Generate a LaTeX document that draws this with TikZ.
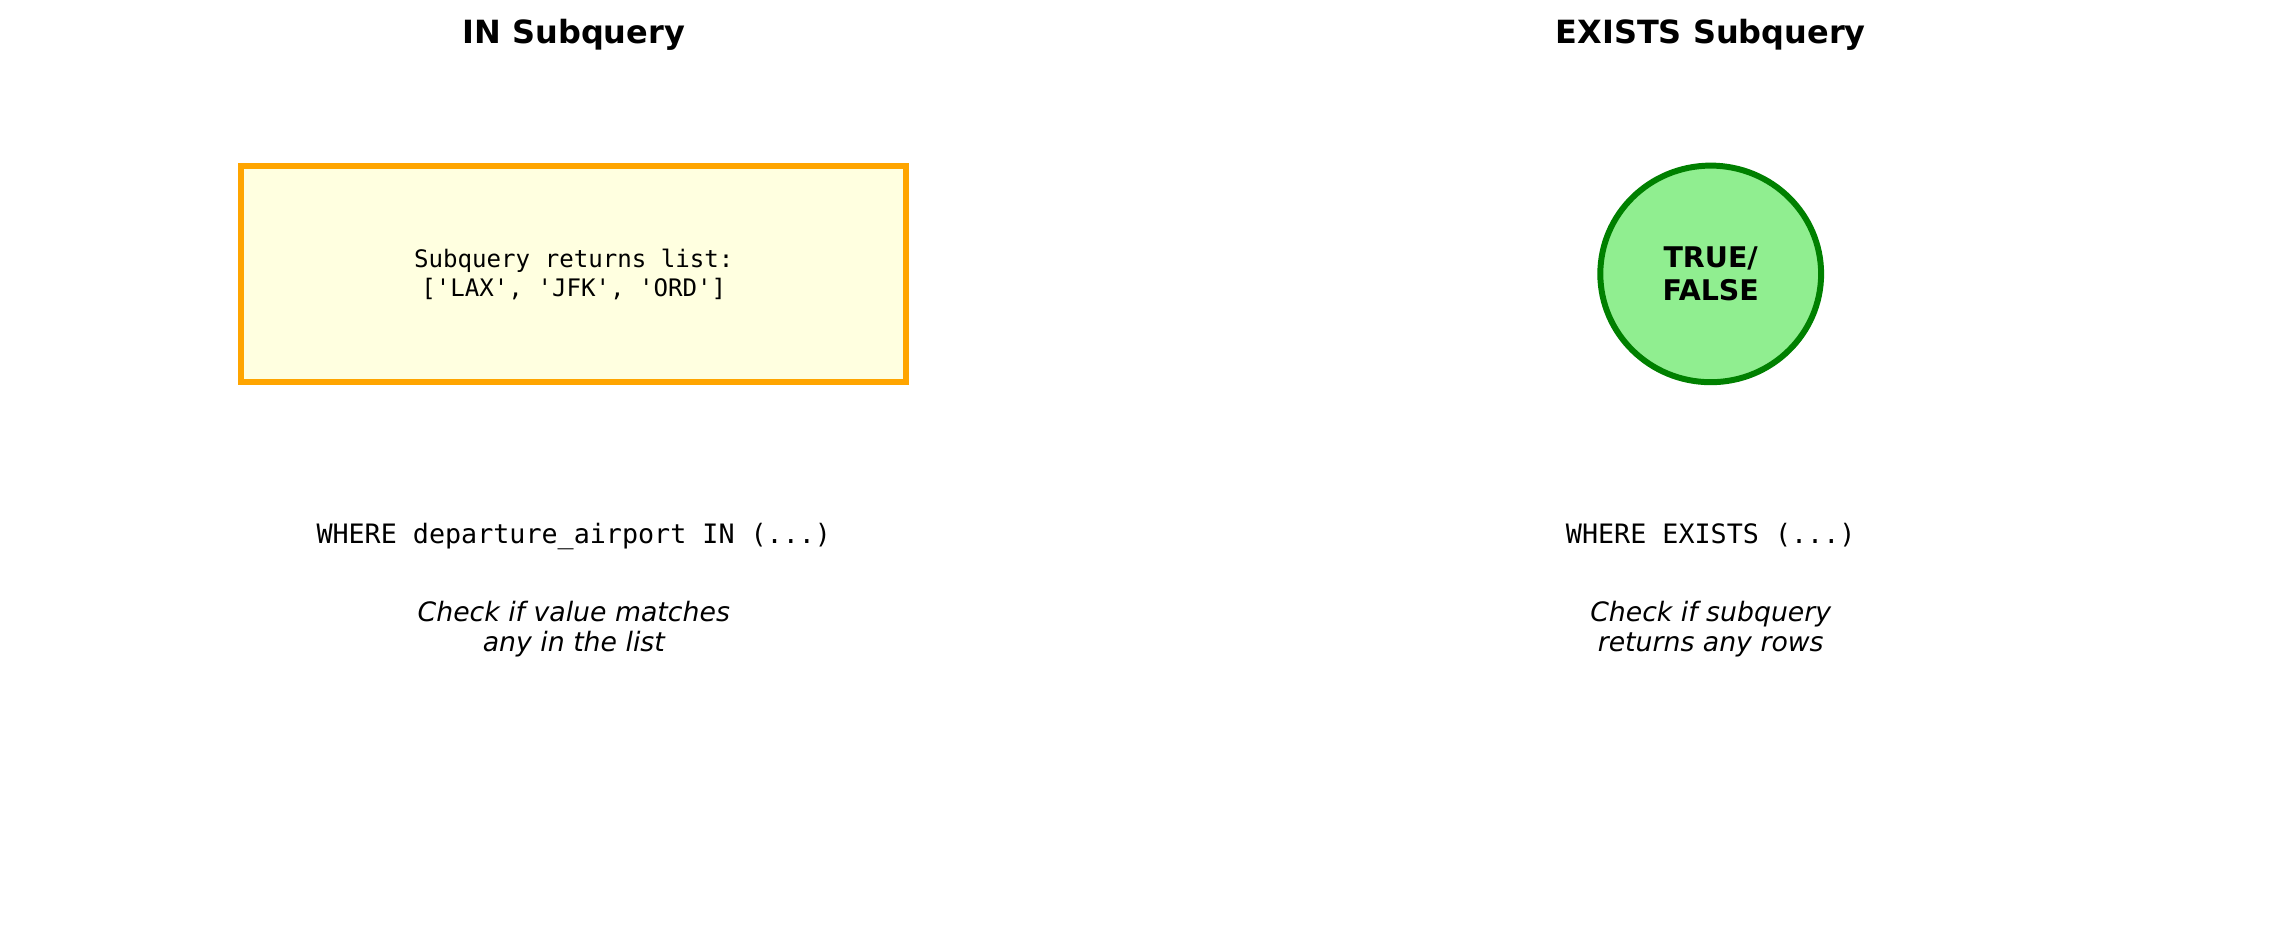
\documentclass[tikz,border=0pt]{standalone}
\usepackage{fontspec}
\setmainfont{DejaVu Sans}
\setmonofont{DejaVu Sans Mono}
\usepackage{tikz}
\usetikzlibrary{shapes.geometric}

\definecolor{boxedge}{RGB}{255,165,0}
\definecolor{boxfill}{RGB}{255,255,224}
\definecolor{circedge}{RGB}{0,128,0}
\definecolor{circfill}{RGB}{144,238,144}

\begin{document}
\begin{tikzpicture}[
    heading/.style={inner sep=0, anchor=base, font=\fontsize{9.1}{11}\selectfont\bfseries},
    codeline/.style={inner sep=0, anchor=base, font=\fontsize{7.6}{9}\selectfont\ttfamily},
    note/.style={inner sep=0, anchor=base, align=center, font=\fontsize{7.6}{8.34}\selectfont\itshape},
    listbox/.style={draw=boxedge, fill=boxfill, line width=1.7pt, minimum width=6.65cm,
        minimum height=2.16cm, align=center, font=\fontsize{6.86}{8.34}\selectfont\ttfamily},
    boolnode/.style={ellipse, draw=circedge, fill=circfill, line width=1.7pt, inner sep=0,
        minimum width=2.208cm, minimum height=2.166cm, align=center,
        font=\fontsize{8.1}{9.3}\selectfont\bfseries}
  ]
    \useasboundingbox (0,0) rectangle (22.84,9.40);

    \node[heading] (intitle) at (5.738,8.967) {IN Subquery};
    \node[heading] (extitle) at (17.107,8.967) {EXISTS Subquery};

    \node[listbox] (inlist) at (5.738,6.657) {Subquery returns list:\\{[}'LAX', 'JFK', 'ORD'{]}};
    \node[boolnode] (exbool) at (17.107,6.661) {TRUE/\\FALSE};

    \node[codeline] (inwhere) at (5.738,3.967) {WHERE departure\_airport IN (...)};
    \node[codeline] (exwhere) at (17.107,3.967) {WHERE EXISTS (...)};

    \node[note] (innote) at (5.738,2.89) {Check if value matches\\any in the list};
    \node[note] (exnote) at (17.107,2.89) {Check if subquery\\returns any rows};
\end{tikzpicture}
\end{document}
